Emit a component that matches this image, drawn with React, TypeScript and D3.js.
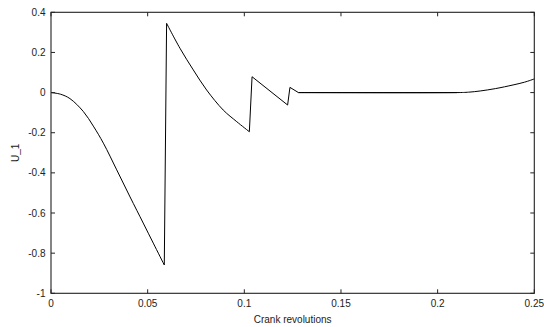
import React from "react";
import * as d3 from "d3";

const xVals = [0, 0.0049, 0.0098, 0.0167, 0.0219, 0.0271, 0.034, 0.0409, 0.0477, 0.0529, 0.0586, 0.0598, 0.0667, 0.0736, 0.0805, 0.0891, 0.0961, 0.1026, 0.104, 0.1224, 0.1236, 0.128, 0.21, 0.216, 0.222, 0.23, 0.239, 0.245, 0.25];
const yVals = [0, -0.008, -0.03, -0.094, -0.167, -0.252, -0.385, -0.52, -0.65, -0.75, -0.859, 0.345, 0.221, 0.113, 0.013, -0.087, -0.145, -0.195, 0.079, -0.062, 0.026, 0, 0, 0.002, 0.008, 0.02, 0.038, 0.052, 0.068];
const xTicks = [0, 0.05, 0.1, 0.15, 0.2, 0.25];
const xTickLabels = ["0", "0.05", "0.1", "0.15", "0.2", "0.25"];
const yTicks = [-1, -0.8, -0.6, -0.4, -0.2, 0, 0.2, 0.4];
const yTickLabels = ["-1", "-0.8", "-0.6", "-0.4", "-0.2", "0", "0.2", "0.4"];

export default function App() {
  const W = 544, H = 327;
  const L = 51, R = 534.3, T = 12.3, B = 293.3;
  const x = d3.scaleLinear().domain([0, 0.25]).range([L, R]);
  const y = d3.scaleLinear().domain([-1, 0.4]).range([B, T]);
  const pts: [number, number][] = xVals.map((v, i) => [v, yVals[i]]);
  const line = d3.line<[number, number]>().x(d => x(d[0])).y(d => y(d[1])).curve(d3.curveCatmullRom.alpha(0.5));
  const straight = d3.line<[number, number]>().x(d => x(d[0])).y(d => y(d[1]));
  const segs = [pts.slice(0, 11), pts.slice(10, 12), pts.slice(11, 18), pts.slice(17, 19), pts.slice(18, 20), pts.slice(19, 21), pts.slice(20, 23), pts.slice(21)];
  const font = "'Liberation Sans', Arial, Helvetica, sans-serif";
  const tl = 4;
  return (
    <svg width={W} height={H} style={{ position: "absolute", left: 0, top: 0, background: "#fff" }}>
      <g stroke="#000" strokeWidth={1} fill="none">
        {segs.map((s, i) => (
          <path key={i} d={(s.length > 3 ? line(s) : straight(s)) || ""} />
        ))}
      </g>
      <rect x={L} y={T} width={R - L} height={B - T} fill="none" stroke="#222" strokeWidth={1.1} />
      <g stroke="#222" strokeWidth={1}>
        {xTicks.map((t, i) => (
          <g key={"xt" + i}>
            <line x1={x(t)} x2={x(t)} y1={B} y2={B - tl} />
            <line x1={x(t)} x2={x(t)} y1={T} y2={T + tl} />
          </g>
        ))}
        {yTicks.map((t, i) => (
          <g key={"yt" + i}>
            <line x1={L} x2={L + tl} y1={y(t)} y2={y(t)} />
            <line x1={R} x2={R - tl} y1={y(t)} y2={y(t)} />
          </g>
        ))}
      </g>
      <g fontFamily={font} fontSize={10} fill="#222">
        {xTicks.map((t, i) => (
          <text key={"xl" + i} x={x(t)} y={307} textAnchor="middle">{xTickLabels[i]}</text>
        ))}
        {yTicks.map((t, i) => (
          <text key={"yl" + i} x={45.5} y={y(t) + 3.5} textAnchor="end">{yTickLabels[i]}</text>
        ))}
        <text x={(L + R) / 2} y={323} textAnchor="middle">Crank revolutions</text>
        <text transform={`translate(18.5,${(T + B) / 2}) rotate(-90)`} textAnchor="middle">U_1</text>
      </g>
    </svg>
  );
}
